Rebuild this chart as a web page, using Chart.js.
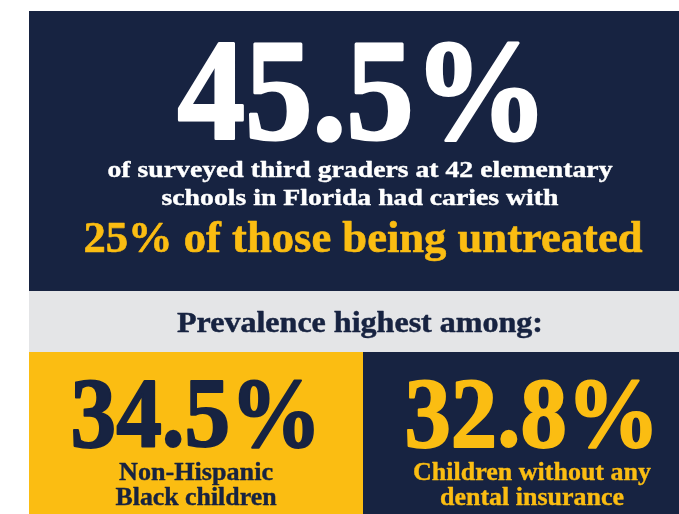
<!DOCTYPE html>
<html>
<head>
<meta charset="utf-8">
<script src="https://cdn.jsdelivr.net/npm/chart.js@4.4.1/dist/chart.umd.min.js"></script>
<style>
  html, body { margin: 0; padding: 0; background: #ffffff; }
  #wrap { width: 679px; height: 514px; position: relative; }
</style>
</head>
<body>
<div id="wrap"><canvas id="caries"></canvas></div>
<script>
// survey figures
const headlineValue = [45.5];
const untreatedShare = [25];
const introLines = ['of surveyed third graders at 42 elementary', 'schools in Florida had caries with'];
const untreatedText = ['of those being untreated'];
const groupHeading = ['Prevalence highest among:'];
const groupLabels = [['Non-Hispanic', 'Black children'], ['Children without any', 'dental insurance']];
const groupValues = [34.5, 32.8];

const NAVY = '#172341';
const GOLD = '#fbbd12';
const GREY = '#e4e5e7';
const FONT = '"Liberation Serif", "Times New Roman", serif';

// draws one centred line stretched/condensed to a given width,
// with an optional outline to thicken the heavy figures
function fitText(ctx, text, cx, y, width, size, color, heavy) {
    ctx.save();
    ctx.font = `bold ${size}px ${FONT}`;
    ctx.fillStyle = color;
    ctx.strokeStyle = color;
    ctx.textAlign = 'center';
    ctx.textBaseline = 'alphabetic';
    const natural = ctx.measureText(text).width;
    ctx.translate(cx, y);
    ctx.scale(width / natural, 1);
    ctx.fillText(text, 0, 0);
    if (heavy) {
        ctx.lineWidth = heavy;
        ctx.lineJoin = 'round';
        ctx.strokeText(text, 0, 0);
    }
    ctx.restore();
}

const pct = v => `${v}%`;

const infographic = {
    id: 'infographic',
    beforeDraw(chart) {
        const ctx = chart.ctx;
        const W = chart.width, H = chart.height;

        ctx.save();
        ctx.fillStyle = '#ffffff';
        ctx.fillRect(0, 0, W, H);

        // panels
        ctx.fillStyle = NAVY;
        ctx.fillRect(29, 11, W - 29, 280);
        ctx.fillStyle = GREY;
        ctx.fillRect(29, 291, W - 29, 61);
        ctx.fillStyle = GOLD;
        ctx.fillRect(29, 352, 334, H - 352);
        ctx.fillStyle = NAVY;
        ctx.fillRect(363, 352, W - 363, H - 352);
        ctx.restore();

        // top block
        fitText(ctx, pct(headlineValue[0]), 363, 139, 371, 144, '#ffffff', 3);
        fitText(ctx, introLines[0], 360, 177, 505, 23, '#ffffff', 0.4);
        fitText(ctx, introLines[1], 360, 205, 397, 23, '#ffffff', 0.4);
        fitText(ctx, `${pct(untreatedShare[0])} ${untreatedText[0]}`, 363, 252, 559, 44, GOLD, 0.6);

        // band heading
        fitText(ctx, groupHeading[0], 360, 332, 366, 30, NAVY, 0.5);

        // group figures
        const cols = [
            { cx: 196, fg: NAVY, widths: [251, 154, 161] },
            { cx: 532, fg: GOLD, widths: [255, 238, 184] }
        ];
        groupValues.forEach((v, i) => {
            const c = cols[i];
            fitText(ctx, pct(v), c.cx, 446, c.widths[0], 100, c.fg, 2);
            fitText(ctx, groupLabels[i][0], c.cx, 480, c.widths[1], 25, c.fg, 0.4);
            fitText(ctx, groupLabels[i][1], c.cx, 505, c.widths[2], 25, c.fg, 0.4);
        });
    }
};

new Chart(document.getElementById('caries'), {
    type: 'bar',
    data: { labels: [], datasets: [] },
    options: {
        responsive: true,
        maintainAspectRatio: false,
        animation: false,
        layout: { padding: 0 },
        plugins: { legend: { display: false }, tooltip: { enabled: false } },
        scales: { x: { display: false }, y: { display: false } }
    },
    plugins: [infographic]
});
</script>
</body>
</html>
